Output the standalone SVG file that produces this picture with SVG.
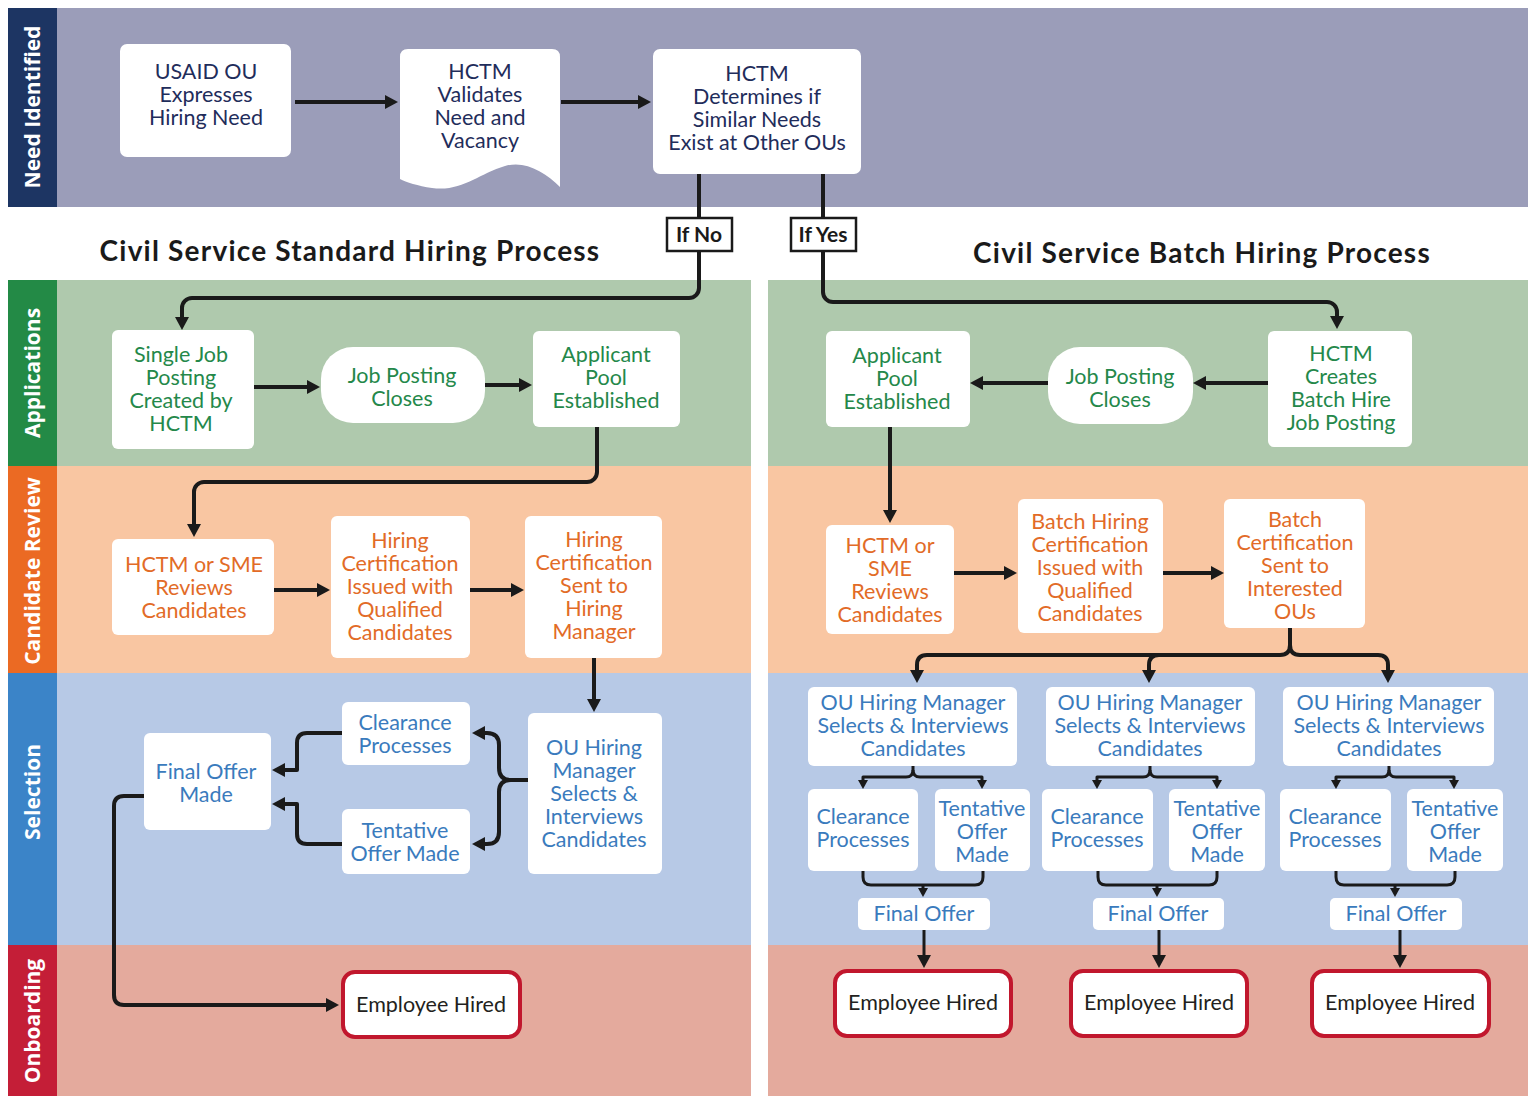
<svg xmlns="http://www.w3.org/2000/svg" width="1528" height="1096" viewBox="0 0 1528 1096">
  <style>
    .box { fill: #ffffff; }
    .hired { fill: #ffffff; stroke: #c1172d; stroke-width: 4; }
    .tag { fill: #ffffff; stroke: #1a1a1a; stroke-width: 2.5; }
    .t { font-family: Lato, "Liberation Sans", sans-serif; font-size: 21.5px; text-anchor: middle; }
    .navy { fill: #1f2d5b; }
    .green { fill: #24884a; }
    .orange { fill: #e26b27; }
    .blue { fill: #3a7bbd; }
    .dark { fill: #231f20; }
    .title { font-family: Lato, "Liberation Sans", sans-serif; font-weight: 700; font-size: 28px; letter-spacing: 1.2px; fill: #1a1a1a; text-anchor: middle; }
    .tagtext { font-family: Lato, "Liberation Sans", sans-serif; font-weight: 700; font-size: 21px; fill: #1a1a1a; text-anchor: middle; }
    .lane { font-family: "Open Sans", "Liberation Sans", sans-serif; font-weight: 700; font-size: 21px; fill: #ffffff; text-anchor: middle; }
    .conn { fill: none; stroke: #1a1a1a; stroke-width: 4; stroke-linejoin: round; }
    .thin { stroke-width: 3; }
  </style>
  <defs>
    <marker id="arrow" viewBox="0 0 13 14" refX="4" refY="7" markerWidth="13" markerHeight="14" orient="auto" markerUnits="userSpaceOnUse">
      <path d="M0,0 L13,7 L0,14 Z" fill="#1a1a1a"/>
    </marker>
    <marker id="arrow-sm" viewBox="0 0 9 10" refX="3" refY="5" markerWidth="9" markerHeight="10" orient="auto" markerUnits="userSpaceOnUse">
      <path d="M0,0 L9,5 L0,10 Z" fill="#1a1a1a"/>
    </marker>
  </defs>

  <!-- page -->
  <rect x="0" y="0" width="1528" height="1096" fill="#ffffff"/>

  <!-- swim lanes -->
  <g id="lanes">
    <rect x="8" y="8" width="1520" height="199" fill="#9b9db9"/>
    <rect x="8" y="8" width="49" height="199" fill="#1d3563"/>

    <rect x="57" y="280" width="694" height="186" fill="#afc9ad"/>
    <rect x="768" y="280" width="760" height="186" fill="#afc9ad"/>
    <rect x="8" y="280" width="49" height="186" fill="#238a46"/>

    <rect x="57" y="466" width="694" height="207" fill="#f9c6a2"/>
    <rect x="768" y="466" width="760" height="207" fill="#f9c6a2"/>
    <rect x="8" y="466" width="49" height="207" fill="#eb6a23"/>

    <rect x="57" y="673" width="694" height="272" fill="#b7c9e6"/>
    <rect x="768" y="673" width="760" height="272" fill="#b7c9e6"/>
    <rect x="8" y="673" width="49" height="272" fill="#3b84c8"/>

    <rect x="57" y="945" width="694" height="151" fill="#e4aa9d"/>
    <rect x="768" y="945" width="760" height="151" fill="#e4aa9d"/>
    <rect x="8" y="945" width="49" height="151" fill="#c41e37"/>

    <text class="lane" transform="translate(33,107) rotate(-90)" y="7">Need Identified</text>
    <text class="lane" transform="translate(33,373) rotate(-90)" y="7">Applications</text>
    <text class="lane" transform="translate(33,571) rotate(-90)" y="7">Candidate Review</text>
    <text class="lane" transform="translate(33,792) rotate(-90)" y="7">Selection</text>
    <text class="lane" transform="translate(33,1021) rotate(-90)" y="7">Onboarding</text>
  </g>

  <!-- process headings -->
  <text class="title" x="350" y="261">Civil Service Standard Hiring Process</text>
  <text class="title" x="1202" y="263">Civil Service Batch Hiring Process</text>

  <!-- connectors -->
  <g id="connectors">
    <path class="conn" d="M295,102 H389" marker-end="url(#arrow)"/>
    <path class="conn" d="M561,102 H642" marker-end="url(#arrow)"/>
    <path class="conn" d="M699,174 V288 A10,10 0 0 1 689,298 H192 A10,10 0 0 0 182,308 V321" marker-end="url(#arrow)"/>
    <path class="conn" d="M823,174 V292 A10,10 0 0 0 833,302 H1327 A10,10 0 0 1 1337,312 V320" marker-end="url(#arrow)"/>

    <!-- standard process -->
    <path class="conn" d="M254,387 H311" marker-end="url(#arrow)"/>
    <path class="conn" d="M485,385 H523" marker-end="url(#arrow)"/>
    <path class="conn" d="M597,427 V472 A10,10 0 0 1 587,482 H204 A10,10 0 0 0 194,492 V528" marker-end="url(#arrow)"/>
    <path class="conn" d="M274,590 H321" marker-end="url(#arrow)"/>
    <path class="conn" d="M470,590 H515" marker-end="url(#arrow)"/>
    <path class="conn" d="M594,658 V703" marker-end="url(#arrow)"/>
    <path class="conn" d="M528,780 H511 Q499,780 499,768 V745 Q499,733 487,733 H481" marker-end="url(#arrow)"/>
    <path class="conn" d="M511,780 Q499,780 499,792 V832 Q499,844 487,844 H481" marker-end="url(#arrow)"/>
    <path class="conn" d="M342,733 H307 Q297,733 297,743 V770 H281" marker-end="url(#arrow)"/>
    <path class="conn" d="M342,844 H307 Q297,844 297,834 V804 H281" marker-end="url(#arrow)"/>
    <path class="conn" d="M144,796 H124 Q114,796 114,806 V995 Q114,1005 124,1005 H330" marker-end="url(#arrow)"/>

    <!-- batch process -->
    <path class="conn" d="M1268,383 H1202" marker-end="url(#arrow)"/>
    <path class="conn" d="M1048,383 H979" marker-end="url(#arrow)"/>
    <path class="conn" d="M890,427 V514" marker-end="url(#arrow)"/>
    <path class="conn" d="M954,573 H1008" marker-end="url(#arrow)"/>
    <path class="conn" d="M1163,573 H1215" marker-end="url(#arrow)"/>
    <path class="conn" d="M1290,628 V645 Q1290,655 1280,655 H927 Q917,655 917,665 V674" marker-end="url(#arrow)"/>
    <path class="conn" d="M1290,645 Q1290,655 1300,655 H1378 Q1388,655 1388,665 V674" marker-end="url(#arrow)"/>
    <path class="conn" d="M1159,655 Q1149,655 1149,665 V674" marker-end="url(#arrow)"/>

    <!-- column 1 -->
    <path class="conn thin" d="M913,766 V770 Q913,777 906,777 H863 V783" marker-end="url(#arrow-sm)"/>
    <path class="conn thin" d="M913,770 Q913,777 920,777 H982 V783" marker-end="url(#arrow-sm)"/>
    <path class="conn thin" d="M863,871 V877 Q863,885 871,885 H975 Q983,885 983,877 V871"/>
    <path class="conn thin" d="M923,885 V891" marker-end="url(#arrow-sm)"/>
    <path class="conn thin" d="M924,930 V959" marker-end="url(#arrow)"/>

    <!-- column 2 -->
    <path class="conn thin" d="M1150,766 V770 Q1150,777 1143,777 H1097 V783" marker-end="url(#arrow-sm)"/>
    <path class="conn thin" d="M1150,770 Q1150,777 1157,777 H1217 V783" marker-end="url(#arrow-sm)"/>
    <path class="conn thin" d="M1098,871 V877 Q1098,885 1106,885 H1209 Q1217,885 1217,877 V871"/>
    <path class="conn thin" d="M1157,885 V891" marker-end="url(#arrow-sm)"/>
    <path class="conn thin" d="M1159,930 V959" marker-end="url(#arrow)"/>

    <!-- column 3 -->
    <path class="conn thin" d="M1389,766 V770 Q1389,777 1382,777 H1336 V783" marker-end="url(#arrow-sm)"/>
    <path class="conn thin" d="M1389,770 Q1389,777 1396,777 H1454 V783" marker-end="url(#arrow-sm)"/>
    <path class="conn thin" d="M1336,871 V877 Q1336,885 1344,885 H1447 Q1455,885 1455,877 V871"/>
    <path class="conn thin" d="M1395,885 V891" marker-end="url(#arrow-sm)"/>
    <path class="conn thin" d="M1400,930 V959" marker-end="url(#arrow)"/>
  </g>

  <!-- need identified -->
  <g id="usaid-need">
    <rect class="box" x="120" y="44" width="171" height="113" rx="7"/>
    <text class="t navy" x="206" y="79"><tspan x="206">USAID OU</tspan><tspan x="206" dy="23">Expresses</tspan><tspan x="206" dy="23">Hiring Need</tspan></text>
  </g>
  <g id="hctm-validates">
    <path class="box" d="M400,57 Q400,49 408,49 H552 Q560,49 560,57 V187 C545,172 525,160 505,166 C478,174 462,192 432,188 C418,186 406,182 400,179 Z"/>
    <text class="t navy" x="480" y="79"><tspan x="480">HCTM</tspan><tspan x="480" dy="23">Validates</tspan><tspan x="480" dy="23">Need and</tspan><tspan x="480" dy="23">Vacancy</tspan></text>
  </g>
  <g id="hctm-determines">
    <rect class="box" x="653" y="49" width="208" height="125" rx="7"/>
    <text class="t navy" x="757" y="81"><tspan x="757">HCTM</tspan><tspan x="757" dy="23">Determines if</tspan><tspan x="757" dy="23">Similar Needs</tspan><tspan x="757" dy="23">Exist at Other OUs</tspan></text>
  </g>
  <g id="if-no">
    <rect class="tag" x="667" y="218" width="65" height="33"/>
    <text class="tagtext" x="699" y="242">If No</text>
  </g>
  <g id="if-yes">
    <rect class="tag" x="791" y="218" width="65" height="33"/>
    <text class="tagtext" x="823" y="242">If Yes</text>
  </g>

  <!-- standard process: applications -->
  <g id="std-single-posting">
    <rect class="box" x="112" y="330" width="142" height="119" rx="6"/>
    <text class="t green" x="181" y="362"><tspan x="181">Single Job</tspan><tspan x="181" dy="23">Posting</tspan><tspan x="181" dy="23">Created by</tspan><tspan x="181" dy="23">HCTM</tspan></text>
  </g>
  <g id="std-posting-closes">
    <rect class="box" x="321" y="347" width="164" height="76" rx="32"/>
    <text class="t green" x="402" y="383"><tspan x="402">Job Posting</tspan><tspan x="402" dy="23">Closes</tspan></text>
  </g>
  <g id="std-applicant-pool">
    <rect class="box" x="533" y="331" width="147" height="96" rx="6"/>
    <text class="t green" x="606" y="362"><tspan x="606">Applicant</tspan><tspan x="606" dy="23">Pool</tspan><tspan x="606" dy="23">Established</tspan></text>
  </g>

  <!-- standard process: candidate review -->
  <g id="std-review">
    <rect class="box" x="112" y="539" width="162" height="96" rx="6"/>
    <text class="t orange" x="194" y="572"><tspan x="194">HCTM or SME</tspan><tspan x="194" dy="23">Reviews</tspan><tspan x="194" dy="23">Candidates</tspan></text>
  </g>
  <g id="std-cert-issued">
    <rect class="box" x="331" y="516" width="139" height="142" rx="6"/>
    <text class="t orange" x="400" y="548"><tspan x="400">Hiring</tspan><tspan x="400" dy="23">Certification</tspan><tspan x="400" dy="23">Issued with</tspan><tspan x="400" dy="23">Qualified</tspan><tspan x="400" dy="23">Candidates</tspan></text>
  </g>
  <g id="std-cert-sent">
    <rect class="box" x="525" y="516" width="137" height="142" rx="6"/>
    <text class="t orange" x="594" y="547"><tspan x="594">Hiring</tspan><tspan x="594" dy="23">Certification</tspan><tspan x="594" dy="23">Sent to</tspan><tspan x="594" dy="23">Hiring</tspan><tspan x="594" dy="23">Manager</tspan></text>
  </g>

  <!-- standard process: selection -->
  <g id="std-manager">
    <rect class="box" x="528" y="713" width="134" height="161" rx="6"/>
    <text class="t blue" x="594" y="755"><tspan x="594">OU Hiring</tspan><tspan x="594" dy="23">Manager</tspan><tspan x="594" dy="23">Selects &amp;</tspan><tspan x="594" dy="23">Interviews</tspan><tspan x="594" dy="23">Candidates</tspan></text>
  </g>
  <g id="std-clearance">
    <rect class="box" x="342" y="702" width="128" height="63" rx="6"/>
    <text class="t blue" x="405" y="730"><tspan x="405">Clearance</tspan><tspan x="405" dy="23">Processes</tspan></text>
  </g>
  <g id="std-tentative">
    <rect class="box" x="342" y="809" width="128" height="65" rx="6"/>
    <text class="t blue" x="405" y="838"><tspan x="405">Tentative</tspan><tspan x="405" dy="23">Offer Made</tspan></text>
  </g>
  <g id="std-final-offer">
    <rect class="box" x="144" y="733" width="127" height="97" rx="6"/>
    <text class="t blue" x="206" y="779"><tspan x="206">Final Offer</tspan><tspan x="206" dy="23">Made</tspan></text>
  </g>

  <!-- standard process: onboarding -->
  <g id="std-hired">
    <rect class="hired" x="343" y="972" width="177" height="65" rx="12"/>
    <text class="t dark" x="431" y="1012">Employee Hired</text>
  </g>

  <!-- batch process: applications -->
  <g id="batch-applicant-pool">
    <rect class="box" x="826" y="331" width="144" height="96" rx="6"/>
    <text class="t green" x="897" y="363"><tspan x="897">Applicant</tspan><tspan x="897" dy="23">Pool</tspan><tspan x="897" dy="23">Established</tspan></text>
  </g>
  <g id="batch-posting-closes">
    <rect class="box" x="1048" y="347" width="145" height="77" rx="32"/>
    <text class="t green" x="1120" y="384"><tspan x="1120">Job Posting</tspan><tspan x="1120" dy="23">Closes</tspan></text>
  </g>
  <g id="batch-posting">
    <rect class="box" x="1268" y="331" width="144" height="116" rx="6"/>
    <text class="t green" x="1341" y="361"><tspan x="1341">HCTM</tspan><tspan x="1341" dy="23">Creates</tspan><tspan x="1341" dy="23">Batch Hire</tspan><tspan x="1341" dy="23">Job Posting</tspan></text>
  </g>

  <!-- batch process: candidate review -->
  <g id="batch-review">
    <rect class="box" x="826" y="525" width="128" height="109" rx="6"/>
    <text class="t orange" x="890" y="553"><tspan x="890">HCTM or</tspan><tspan x="890" dy="23">SME</tspan><tspan x="890" dy="23">Reviews</tspan><tspan x="890" dy="23">Candidates</tspan></text>
  </g>
  <g id="batch-cert-issued">
    <rect class="box" x="1018" y="499" width="145" height="134" rx="6"/>
    <text class="t orange" x="1090" y="529"><tspan x="1090">Batch Hiring</tspan><tspan x="1090" dy="23">Certification</tspan><tspan x="1090" dy="23">Issued with</tspan><tspan x="1090" dy="23">Qualified</tspan><tspan x="1090" dy="23">Candidates</tspan></text>
  </g>
  <g id="batch-cert-sent">
    <rect class="box" x="1224" y="499" width="141" height="129" rx="6"/>
    <text class="t orange" x="1295" y="527"><tspan x="1295">Batch</tspan><tspan x="1295" dy="23">Certification</tspan><tspan x="1295" dy="23">Sent to</tspan><tspan x="1295" dy="23">Interested</tspan><tspan x="1295" dy="23">OUs</tspan></text>
  </g>

  <!-- batch process: selection, office 1 -->
  <g id="ou1-manager">
    <rect class="box" x="808" y="687" width="209" height="79" rx="6"/>
    <text class="t blue" x="913" y="710"><tspan x="913">OU Hiring Manager</tspan><tspan x="913" dy="23">Selects &amp; Interviews</tspan><tspan x="913" dy="23">Candidates</tspan></text>
  </g>
  <g id="ou1-clearance">
    <rect class="box" x="808" y="789" width="110" height="82" rx="6"/>
    <text class="t blue" x="863" y="824"><tspan x="863">Clearance</tspan><tspan x="863" dy="23">Processes</tspan></text>
  </g>
  <g id="ou1-tentative">
    <rect class="box" x="935" y="789" width="95" height="82" rx="6"/>
    <text class="t blue" x="982" y="816"><tspan x="982">Tentative</tspan><tspan x="982" dy="23">Offer</tspan><tspan x="982" dy="23">Made</tspan></text>
  </g>
  <g id="ou1-final">
    <rect class="box" x="858" y="898" width="132" height="32" rx="5"/>
    <text class="t blue" x="924" y="921">Final Offer</text>
  </g>
  <g id="ou1-hired">
    <rect class="hired" x="835" y="971" width="176" height="65" rx="12"/>
    <text class="t dark" x="923" y="1010">Employee Hired</text>
  </g>

  <!-- batch process: selection, office 2 -->
  <g id="ou2-manager">
    <rect class="box" x="1046" y="687" width="209" height="79" rx="6"/>
    <text class="t blue" x="1150" y="710"><tspan x="1150">OU Hiring Manager</tspan><tspan x="1150" dy="23">Selects &amp; Interviews</tspan><tspan x="1150" dy="23">Candidates</tspan></text>
  </g>
  <g id="ou2-clearance">
    <rect class="box" x="1042" y="789" width="111" height="82" rx="6"/>
    <text class="t blue" x="1097" y="824"><tspan x="1097">Clearance</tspan><tspan x="1097" dy="23">Processes</tspan></text>
  </g>
  <g id="ou2-tentative">
    <rect class="box" x="1169" y="789" width="96" height="82" rx="6"/>
    <text class="t blue" x="1217" y="816"><tspan x="1217">Tentative</tspan><tspan x="1217" dy="23">Offer</tspan><tspan x="1217" dy="23">Made</tspan></text>
  </g>
  <g id="ou2-final">
    <rect class="box" x="1093" y="898" width="131" height="32" rx="5"/>
    <text class="t blue" x="1158" y="921">Final Offer</text>
  </g>
  <g id="ou2-hired">
    <rect class="hired" x="1071" y="971" width="176" height="65" rx="12"/>
    <text class="t dark" x="1159" y="1010">Employee Hired</text>
  </g>

  <!-- batch process: selection, office 3 -->
  <g id="ou3-manager">
    <rect class="box" x="1283" y="687" width="211" height="79" rx="6"/>
    <text class="t blue" x="1389" y="710"><tspan x="1389">OU Hiring Manager</tspan><tspan x="1389" dy="23">Selects &amp; Interviews</tspan><tspan x="1389" dy="23">Candidates</tspan></text>
  </g>
  <g id="ou3-clearance">
    <rect class="box" x="1280" y="789" width="111" height="82" rx="6"/>
    <text class="t blue" x="1335" y="824"><tspan x="1335">Clearance</tspan><tspan x="1335" dy="23">Processes</tspan></text>
  </g>
  <g id="ou3-tentative">
    <rect class="box" x="1407" y="789" width="96" height="82" rx="6"/>
    <text class="t blue" x="1455" y="816"><tspan x="1455">Tentative</tspan><tspan x="1455" dy="23">Offer</tspan><tspan x="1455" dy="23">Made</tspan></text>
  </g>
  <g id="ou3-final">
    <rect class="box" x="1330" y="898" width="132" height="32" rx="5"/>
    <text class="t blue" x="1396" y="921">Final Offer</text>
  </g>
  <g id="ou3-hired">
    <rect class="hired" x="1312" y="971" width="177" height="65" rx="12"/>
    <text class="t dark" x="1400" y="1010">Employee Hired</text>
  </g>
</svg>
